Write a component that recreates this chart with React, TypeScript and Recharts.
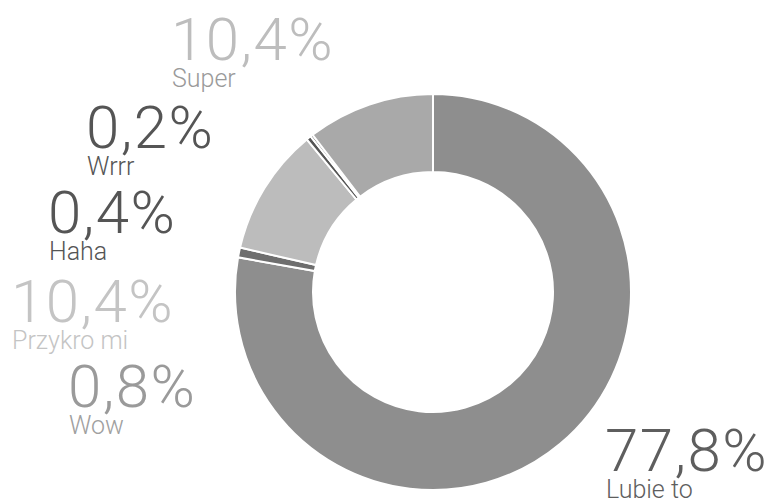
import { PieChart, Pie, Cell } from "recharts";

// clockwise from 12 o'clock
const names = ["Lubie to", "Wow", "Przykro mi", "Haha", "Wrrr", "Super"];
const shares = [77.8, 0.8, 10.4, 0.4, 0.2, 10.4];
const sliceColors = ["#8e8e8e", "#6e6e6e", "#bcbcbc", "#555555", "#4a4a4a", "#a9a9a9"];
const numberColors = ["#5e5e5e", "#9a9a9a", "#c4c4c4", "#555555", "#555555", "#bdbdbd"];
const nameColors = ["#5e5e5e", "#a0a0a0", "#c4c4c4", "#555555", "#555555", "#9a9a9a"];

const data = names.map((name, i) => ({ name, value: shares[i] }));

// left edge and number baseline of each label block
const labelPos: Record<string, { x: number; y: number }> = {
  "Lubie to": { x: 605, y: 471 },
  Wow: { x: 68, y: 407 },
  "Przykro mi": { x: 11, y: 322 },
  Haha: { x: 48, y: 233 },
  Wrrr: { x: 86, y: 148 },
  Super: { x: 171, y: 60 },
};

const fmt = (v: number) => v.toFixed(1).replace(".", ",") + "%";

const renderLabel = (props: any) => {
  const i = props.index;
  const name = names[i];
  const p = labelPos[name];
  return (
    <g key={name}>
      <text
        x={p.x}
        y={p.y}
        fill={numberColors[i]}
        fontSize={60}
        letterSpacing={1.5}
        fontFamily="Roboto, 'Liberation Sans', sans-serif"
        fontWeight={300}
        textAnchor="start"
      >
        {fmt(shares[i])}
      </text>
      <text
        x={p.x + 1}
        y={p.y + 27}
        fill={nameColors[i]}
        fontSize={25}
        fontFamily="Roboto, 'Liberation Sans', sans-serif"
        fontWeight={300}
        textAnchor="start"
      >
        {name}
      </text>
    </g>
  );
};

export default function App() {
  return (
    <div style={{ position: "fixed", left: 0, top: 0, width: 776, height: 504, background: "#fff" }}>
      <PieChart width={776} height={504} margin={{ top: 0, right: 0, bottom: 0, left: 0 }}>
        <Pie
          data={data}
          dataKey="value"
          nameKey="name"
          cx={433}
          cy={292}
          innerRadius={120}
          outerRadius={198}
          startAngle={90}
          endAngle={-270}
          stroke="#ffffff"
          strokeWidth={2}
          label={renderLabel}
          labelLine={false}
          isAnimationActive={false}
        >
          {data.map((d, i) => (
            <Cell key={d.name} fill={sliceColors[i]} />
          ))}
        </Pie>
      </PieChart>
    </div>
  );
}
